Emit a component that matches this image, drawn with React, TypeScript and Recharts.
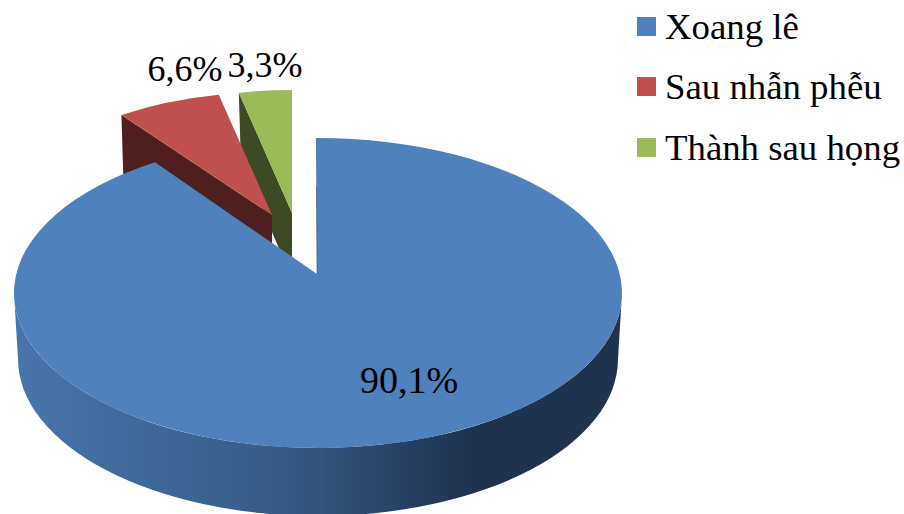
import { Legend, Pie, PieChart } from "recharts";

const categories = ["Xoang lê", "Sau nhẫn phễu", "Thành sau họng"];
const shares = [90.1, 6.6, 3.3];
const topColors = ["#4f81bd", "#c0504d", "#9bbb59"];
const cutColors = ["#1f334f", "#4f1f1f", "#3e4a24"];

// Reversed and swept anticlockwise, so the large slice paints last and covers
// the walls of the two pulled-out slices.
const sliceRows = categories
  .map((name, i) => ({ name, value: shares[i], fill: topColors[i], cut: cutColors[i] }))
  .reverse();

const PIE_CX = 318;
const PIE_CY = 293;
const PIE_RADIUS = 304;
const WALL_DEPTH = 66;
const SERIF = "'Liberation Serif', 'Times New Roman', Times, serif";

// How each slice sits in the tilted view: apex offset from the pie centre,
// arc centre offset, ellipse scale, foreshortening of the back edge, and a
// small overrun of the arc past 12 o'clock.
const sliceViews: Record<string, { ax: number; ay: number; ox: number; oy: number; sx: number; ry: number; back: number; lead: number }> = {
  "Xoang lê": { ax: -1, ay: -19, ox: 0, oy: 0, sx: 1, ry: 155, back: 0.91, lead: 0.4 },
  "Sau nhẫn phễu": { ax: -46, ay: -78, ox: -46, oy: -78, sx: 0.85, ry: 123, back: 1, lead: 0 },
  "Thành sau họng": { ax: -26, ay: -80, ox: -26, oy: -80, sx: 0.85, ry: 123, back: 1, lead: 0 },
};

const labelSpots: Record<string, { x: number; y: number; size: number }> = {
  "Xoang lê": { x: 409, y: 393, size: 38 },
  "Sau nhẫn phễu": { x: 185, y: 81, size: 36 },
  "Thành sau họng": { x: 265, y: 77, size: 36 },
};

const rad = (deg: number) => (deg * Math.PI) / 180;

function TiltedSlice(props: any) {
  const { cx, cy, outerRadius, startAngle, endAngle, fill, payload } = props;
  const view = sliceViews[payload.name];
  const apexX = cx + view.ax;
  const apexY = cy + view.ay;
  const arcX = cx + view.ox;
  const arcY = cy + view.oy;
  const rx = outerRadius * view.sx;
  const from = 90 + (startAngle - 90) * view.back;
  const to = endAngle + view.lead;
  const x0 = arcX + rx * Math.cos(rad(from));
  const y0 = arcY - view.ry * Math.sin(rad(from));
  const x1 = arcX + rx * Math.cos(rad(to));
  const y1 = arcY - view.ry * Math.sin(rad(to));
  const large = to - from > 180 ? 1 : 0;
  const top = `M${apexX},${apexY} L${x0},${y0} A${rx},${view.ry} 0 ${large} 0 ${x1},${y1} Z`;

  if (payload.name === categories[0]) {
    const lowerRx = rx - 4;
    const lowerRy = view.ry + 2;
    const wall =
      `M${cx - rx},${cy} A${rx},${view.ry} 0 0 0 ${cx + rx},${cy} ` +
      `L${cx + lowerRx},${cy + WALL_DEPTH} A${lowerRx},${lowerRy} 0 0 1 ${cx - lowerRx},${cy + WALL_DEPTH} Z`;
    return (
      <g>
        <path d={wall} fill="url(#wallShade)" />
        <path d={top} fill={fill} />
        {/* thin sliver of the cut face along the 12 o'clock edge */}
        <path d={`M${cx - 1.5},${cy - 106} L${apexX},${apexY}`} stroke={payload.cut} strokeOpacity={0.45} strokeWidth={1} fill="none" />
      </g>
    );
  }

  // Pulled-out slices only show the cut face along their left edge.
  const cut = `M${x1},${y1} L${apexX},${apexY} L${apexX},${apexY + WALL_DEPTH} L${x1 + 2},${y1 + WALL_DEPTH} Z`;
  return (
    <g>
      <path d={cut} fill={payload.cut} />
      <path d={top} fill={fill} />
    </g>
  );
}

function ShareLabel(props: any) {
  const spot = labelSpots[props.name];
  return (
    <text x={spot.x} y={spot.y} textAnchor="middle" fontFamily={SERIF} fontSize={spot.size} fill="#000">
      {`${String(props.value).replace(".", ",")}%`}
    </text>
  );
}

function SliceKey() {
  return (
    <div style={{ fontFamily: SERIF, fontSize: 36.8, color: "#000" }}>
      {categories.map((name, i) => (
        <div key={name} style={{ display: "flex", alignItems: "center", height: 60.5, whiteSpace: "nowrap" }}>
          <span style={{ width: 19, height: 19, background: topColors[i], marginRight: 9, flex: "none" }} />
          {name}
        </div>
      ))}
    </div>
  );
}

export default function App() {
  return (
    <div style={{ position: "absolute", left: 0, top: 0, width: 904, height: 514, overflow: "hidden", background: "#fff" }}>
      <PieChart width={904} height={514} margin={{ top: 0, right: 0, bottom: 0, left: 0 }}>
        <defs>
          <linearGradient id="wallShade" x1="0" y1="0" x2="1" y2="0">
            <stop offset="0%" stopColor="#4875ad" />
            <stop offset="45%" stopColor="#355a86" />
            <stop offset="75%" stopColor="#1f334f" />
            <stop offset="100%" stopColor="#1f334f" />
          </linearGradient>
        </defs>
        <Pie
          data={sliceRows}
          dataKey="value"
          nameKey="name"
          cx={PIE_CX}
          cy={PIE_CY}
          outerRadius={PIE_RADIUS}
          startAngle={90}
          endAngle={450}
          stroke="none"
          shape={TiltedSlice}
          label={ShareLabel}
          labelLine={false}
          isAnimationActive={false}
        />
        <Legend
          content={<SliceKey />}
          wrapperStyle={{ position: "absolute", left: 637, top: -4, width: 267, bottom: "auto" }}
        />
      </PieChart>
    </div>
  );
}
